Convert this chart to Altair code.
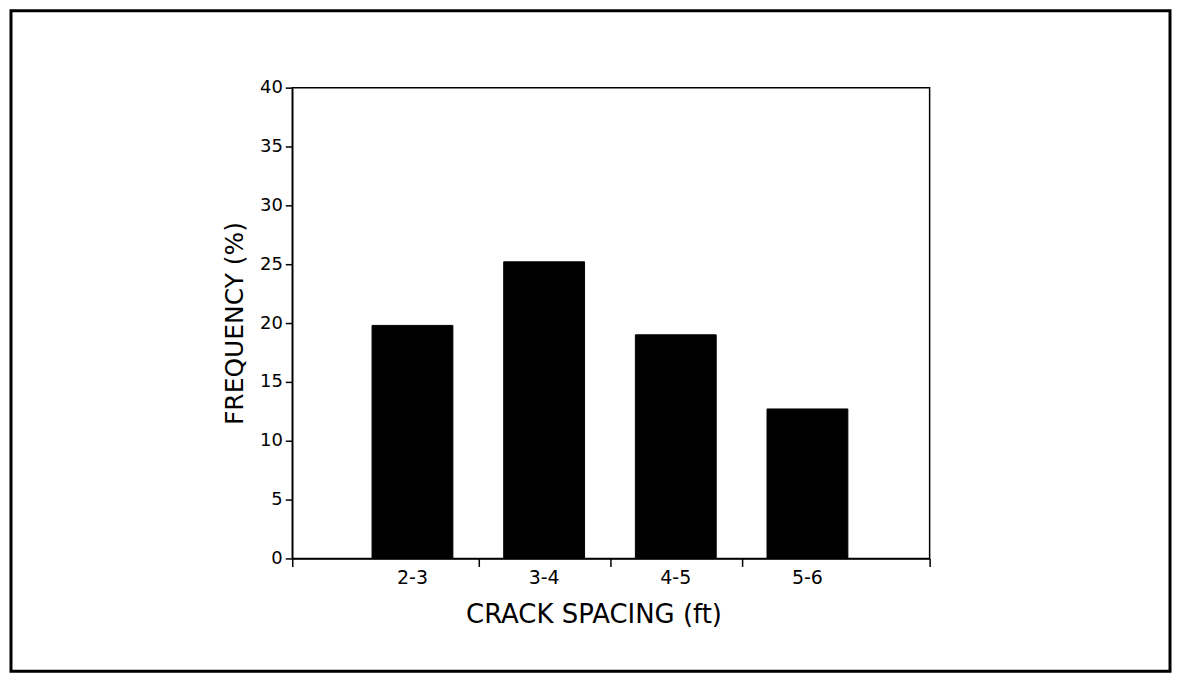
import altair as alt
import pandas as pd

categories = ["2-3", "3-4", "4-5", "5-6"]
frequency = [19.8, 25.2, 19.0, 12.7]
positions = [0, 1, 2, 3]
boundaries = [-0.913, 0.5, 1.5, 2.5, 3.928]
y_ticks = [0, 5, 10, 15, 20, 25, 30, 35, 40]

W, H = 639, 472
half = 0.307

df = pd.DataFrame({"cat": categories, "pos": positions, "freq": frequency})
df["x0"] = df["pos"] - half
df["x1"] = df["pos"] + half

FONT = "DejaVu Sans"

xscale = alt.Scale(domain=[boundaries[0], boundaries[-1]], nice=False, zero=False)
yscale = alt.Scale(domain=[0, 40], nice=False)

bars = alt.Chart(df).mark_bar(color="black", stroke="black").encode(
    x=alt.X("x0:Q", scale=xscale,
            axis=alt.Axis(values=boundaries, labels=False, title="CRACK SPACING (ft)",
                          tickSize=8, tickColor="black", domainColor="black",
                          domainWidth=1.5, tickWidth=1.5,
                          titleFont=FONT, titleFontSize=26, titleFontWeight="normal",
                          titleColor="black", titlePadding=34, titleX=302, grid=False)),
    x2="x1:Q",
    y=alt.Y("freq:Q", scale=yscale,
            axis=alt.Axis(values=y_ticks, title="FREQUENCY (%)", tickSize=7,
                          tickColor="black", domainColor="black",
                          domainWidth=1.5, tickWidth=1.5, labelFont=FONT,
                          labelFontSize=18, labelColor="black", labelPadding=3,
                          titleFont=FONT, titleFontSize=25, titleFontWeight="normal",
                          titleColor="black", titlePadding=12, grid=False)),
    y2=alt.datum(0),
)

labels = alt.Chart(df).mark_text(font=FONT, fontSize=19, color="black", baseline="top").encode(
    x=alt.X("pos:Q", scale=xscale),
    y=alt.value(H + 11),
    text="cat:N",
)

frame = alt.Chart(pd.DataFrame({"a": [0]})).mark_rect(
    fill=None, stroke="black", strokeWidth=3, clip=False
).encode(
    x=alt.value(-282), x2=alt.value(880),
    y=alt.value(-77), y2=alt.value(585),
)

chart = alt.layer(bars, labels, frame).properties(
    width=W, height=H,
    background="white",
    autosize=alt.AutoSizeParams(type="none"),
    padding={"left": 285, "top": 79, "right": 243, "bottom": 114},
).configure_view(stroke="#000000", strokeWidth=1.5)

chart.save("out.html", embed_options={"renderer": "svg", "actions": False})
